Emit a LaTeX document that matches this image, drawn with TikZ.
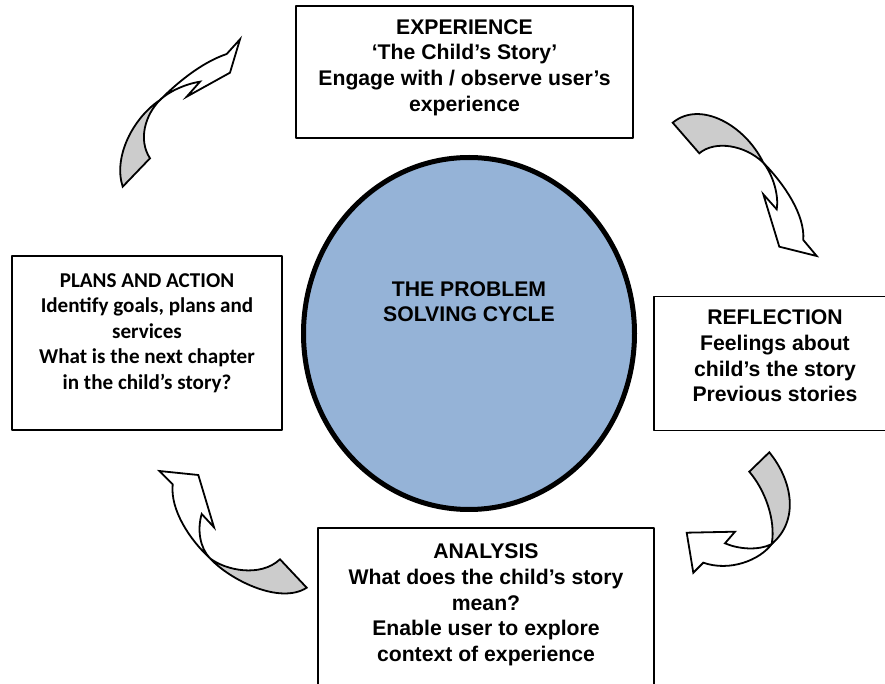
\documentclass[tikz,border=0pt]{standalone}
\usepackage{fontspec}
\setmainfont{Liberation Sans}
\newfontfamily\calibri[Ligatures=TeX]{Carlito}
\usepackage{tikz}
\usetikzlibrary{positioning,shapes.geometric}
\definecolor{cycleblue}{HTML}{95B3D7}
\definecolor{twistgray}{HTML}{CCCCCC}
\tikzset{
  every picture/.style={line join=round, line cap=round},
  stagebox/.style={draw, line width=0.9pt, inner sep=0pt},
  stagetext/.style={font=\bfseries\fontsize{10.6pt}{12.8pt}\selectfont, align=center, inner sep=0pt},
  calibritext/.style={stagetext, font=\calibri\bfseries\fontsize{10.55pt}{12.75pt}\selectfont},
  ribbon/.style={draw, line width=0.9pt, line join=miter},
  ribbonback/.style={ribbon, fill=twistgray},
  ribbonfront/.style={ribbon, fill=white},
}

\begin{document}
\begin{tikzpicture}[x=0.5pt,y=-0.5pt]
\useasboundingbox (0,0) rectangle (885,684);
\clip (0,0) rectangle (885,684);

% the four stages
\node[stagebox, minimum width=168.5pt, minimum height=66pt] (exp) at (464.5,72) {};
\node[stagebox, minimum width=135pt, minimum height=87pt] (plans) at (147,343) {};
\node[stagebox, minimum width=121pt, minimum height=67pt] (refl) at (775,363.5) {};
\node[stagebox, minimum width=168pt, minimum height=87pt] (ana) at (486,615) {};

\node[stagetext, below=7pt of exp.north] (exptext)
  {EXPERIENCE\\`The Child's Story'\\Engage with / observe user's\\experience};
\node[calibritext, below=9pt of plans.north] (planstext)
  {PLANS AND ACTION\\Identify goals, plans and\\services\\What is the next chapter\\in the child's story?};
\node[stagetext, below=7pt of refl.north] (refltext)
  {REFLECTION\\Feelings about\\child's the story\\Previous stories};
\node[stagetext, below=8.25pt of ana.north] (anatext)
  {ANALYSIS\\What does the child's story\\mean?\\Enable user to explore\\context of experience};

% centre
\node[ellipse, draw, line width=2.5pt, fill=cycleblue, inner sep=0pt,
  minimum width=165.5pt, minimum height=176pt] (cycle) at (469,333.5) {};
\node[stagetext, below=63pt of cycle.north] (cycletext) {THE PROBLEM\\SOLVING CYCLE};

% twisted arrows, tail half grey
\coordinate (nwx) at (160,100);
\filldraw[ribbonback] (122.7,186.7) .. controls (113,157) and (133,118) .. (nwx)
  .. controls (145,115) and (138,140) .. (150,158.3) -- cycle;
\filldraw[ribbonfront] (nwx) .. controls (175,85) and (200,63) .. (226.7,54)
  -- (240,39.3) -- (230,72.7) -- (186.7,96.7) -- (200,81.7)
  .. controls (185,84) and (168,92) .. (nwx) -- cycle;

\coordinate (nex) at (763.3,162.7);
\filldraw[ribbonback] (672.7,122.7) .. controls (700,100) and (745,125) .. (nex)
  .. controls (745,145) and (715,140) .. (699.3,153.3) -- cycle;
\filldraw[ribbonfront] (nex) .. controls (785,185) and (805,215) .. (803.3,240)
  -- (816.7,256) -- (779.3,246.7) -- (763.3,194.3) -- (776.7,209.3)
  .. controls (779,195) and (773,175) .. (nex) -- cycle;

\coordinate (sex) at (771.7,544);
\filldraw[ribbonback] (749.3,471.7) -- (769.3,452.3) .. controls (792,480) and (800,520) .. (sex)
  .. controls (776,520) and (765,490) .. (749.3,471.7) -- cycle;
\filldraw[ribbonfront] (sex) .. controls (760,560) and (730,572) .. (703.3,562.7)
  -- (693.3,572.7) -- (686.7,532.7) -- (735,531.7) -- (725,543.3)
  .. controls (738,549) and (758,551) .. (sex) -- cycle;

\coordinate (swx) at (210,558.3);
\filldraw[ribbonback] (swx) .. controls (230,580) and (280,605) .. (306.7,587.7)
  -- (280,559.3) .. controls (260,578) and (225,570) .. (swx) -- cycle;
\filldraw[ribbonfront] (swx) .. controls (190,540) and (170,510) .. (172.7,484.3)
  -- (159.3,471) -- (198.3,475) -- (214,527.3) -- (201.7,514)
  .. controls (197,530) and (200,548) .. (swx) -- cycle;
\end{tikzpicture}
\end{document}
